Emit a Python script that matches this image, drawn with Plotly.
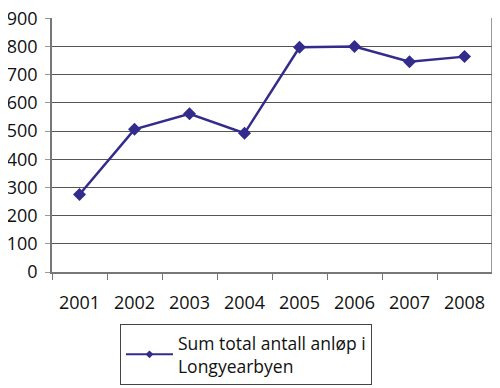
import plotly.graph_objects as go

years = ["2001", "2002", "2003", "2004", "2005", "2006", "2007", "2008"]
values = [275, 506, 561, 492, 797, 800, 746, 764]
y_ticks = [0, 100, 200, 300, 400, 500, 600, 700, 800, 900]
series_name = "Sum total antall anløp i<br>Longyearbyen"
color = "#332c8c"

fig = go.Figure()
fig.add_trace(go.Scatter(
    x=years, y=values, mode="lines+markers", name=series_name,
    line=dict(color=color, width=2.5),
    marker=dict(symbol="diamond", size=10, color=color),
    showlegend=False,
))
fig.add_trace(go.Scatter(
    x=[None], y=[None], mode="lines+markers", name=series_name,
    line=dict(color=color, width=2),
    marker=dict(symbol="diamond", size=6, color=color),
    showlegend=True,
))

# page body has an 8px margin, so the figure is 492x380 and offsets are shifted
fig.update_layout(
    width=492, height=380,
    margin=dict(l=44, r=8, t=10, b=116, autoexpand=False),
    paper_bgcolor="white", plot_bgcolor="white",
    font=dict(family="Open Sans, Noto Sans, sans-serif", size=18, color="#111"),
    showlegend=True,
    legend=dict(
        x=0.1545, y=-0.205, xanchor="left", yanchor="top",
        bordercolor="#444", borderwidth=1, bgcolor="white",
        font=dict(size=17.5), itemwidth=47, tracegroupgap=0,
    ),
    xaxis=dict(
        type="category", showgrid=False, showline=True, linecolor="#777", linewidth=1.5,
        ticks="outside", ticklen=6, tickcolor="#777", tickson="boundaries",
        range=[-0.5, 7.5], ticklabelstandoff=14,
    ),
    yaxis=dict(
        range=[0, 901], tickvals=y_ticks,
        showgrid=True, gridcolor="#555", gridwidth=1.2,
        showline=True, linecolor="#777", linewidth=1.5, ticks="outside", ticklen=5,
        tickcolor="#999", zeroline=False, ticklabelstandoff=4,
        ticklabeloverflow="allow",
    ),
)
fig.add_shape(type="line", xref="paper", yref="paper", x0=1, x1=1, y0=0, y1=1,
              line=dict(color="#777", width=1.5))

fig.write_html("out.html")
